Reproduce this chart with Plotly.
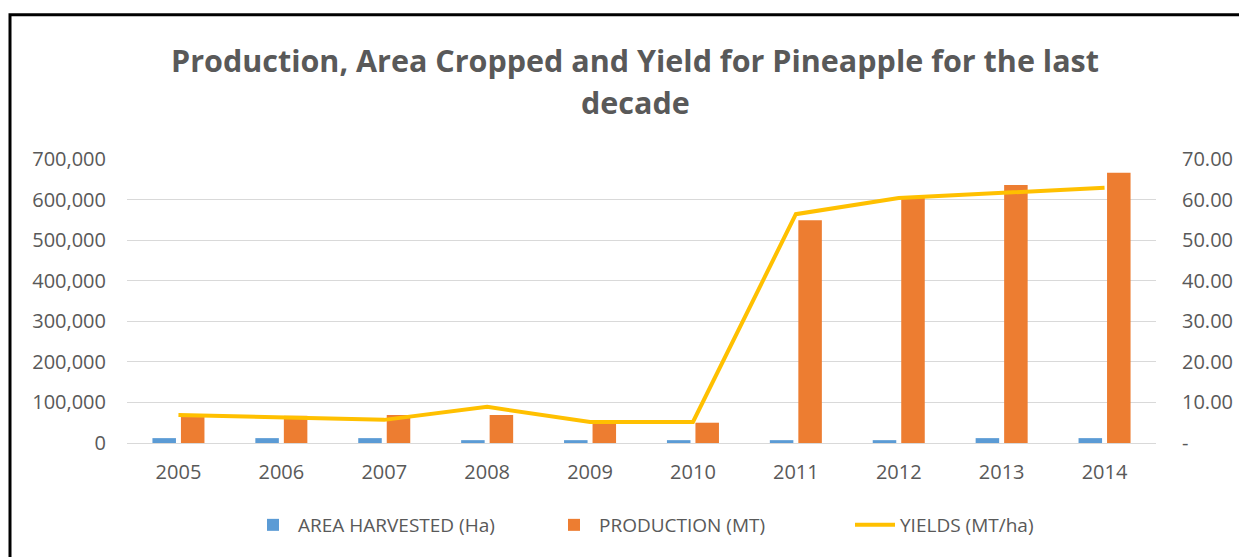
import plotly.graph_objects as go

# data
years = ['2005', '2006', '2007', '2008', '2009', '2010', '2011', '2012', '2013', '2014']
area_harvested = [12000, 12000, 12000, 7000, 7000, 7000, 7000, 7000, 12000, 12000]
production = [64000, 67000, 69000, 69000, 47000, 50000, 549000, 606000, 636000, 666000]
yields = [6.9, 6.4, 5.7, 8.9, 5.2, 5.2, 56.4, 60.4, 61.7, 62.9]

left_ticks = [0, 100000, 200000, 300000, 400000, 500000, 600000, 700000]
right_ticks = [0, 10, 20, 30, 40, 50, 60, 70]
right_labels = ['-', '10.00', '20.00', '30.00', '40.00', '50.00', '60.00', '70.00']

grey = '#595959'
font = 'Open Sans, DejaVu Sans, sans-serif'

# page has an 8px body margin, so the figure is a bit smaller than the window
W, H = 1239, 549
L, T, PW, PH = 119, 151, 1029, 284

fig = go.Figure()
fig.add_trace(go.Bar(x=years, y=area_harvested, name='AREA HARVESTED (Ha)',
                     marker=dict(color='#5B9BD5', line=dict(width=0))))
fig.add_trace(go.Bar(x=years, y=production, name='PRODUCTION (MT)',
                     marker=dict(color='#ED7D31', line=dict(width=0))))
fig.add_trace(go.Scatter(x=years, y=yields, name='YIELDS (MT/ha)', mode='lines',
                         line=dict(color='#FFC000', width=4), yaxis='y2'))

fig.update_layout(
    width=W, height=H,
    margin=dict(l=L, r=W - L - PW, t=T, b=H - T - PH, pad=0),
    paper_bgcolor='white', plot_bgcolor='white',
    font=dict(family=font, size=20, color=grey),
    barmode='group', bargap=0.446, bargroupgap=0.175,
    showlegend=True,
    legend=dict(orientation='h', x=(240 - L) / PW, xanchor='left',
                y=(435 - 517) / PH, yanchor='middle',
                font=dict(size=19, color=grey), traceorder='normal',
                itemwidth=40, entrywidth=246, entrywidthmode='pixels'),
    xaxis=dict(showgrid=False, showline=False, ticks='', ticklabelstandoff=15,
               tickfont=dict(size=20, color=grey)),
    yaxis=dict(range=[0, 700000], tickvals=left_ticks, tickformat=',',
               showgrid=True, gridcolor='#D9D9D9', gridwidth=1,
               zeroline=True, zerolinecolor='#D9D9D9', zerolinewidth=1,
               ticks='', ticklabelstandoff=20, tickfont=dict(size=20, color=grey)),
    yaxis2=dict(range=[0, 70], tickvals=right_ticks, ticktext=right_labels,
                overlaying='y', side='right', showgrid=False, zeroline=False,
                ticks='', ticklabelstandoff=25, tickfont=dict(size=20, color=grey)),
)

# title as two lines, like the original
fig.add_annotation(text='<b>Production, Area Cropped and Yield for Pineapple for the last</b>',
                   xref='paper', yref='paper', x=(627 - L) / PW, y=(435 - 52) / PH,
                   xanchor='center', yanchor='middle', showarrow=False,
                   font=dict(size=30.5, color=grey, family=font))
fig.add_annotation(text='<b>decade</b>',
                   xref='paper', yref='paper', x=(627 - L) / PW, y=(435 - 94) / PH,
                   xanchor='center', yanchor='middle', showarrow=False,
                   font=dict(size=30.5, color=grey, family=font))

# black frame around the chart
fig.add_shape(type='rect', xref='paper', yref='paper',
              x0=(2 - L) / PW, x1=1.3, y0=-0.6, y1=(435 - 6.7) / PH,
              line=dict(color='black', width=3), layer='below')

fig.write_html('out.html')
